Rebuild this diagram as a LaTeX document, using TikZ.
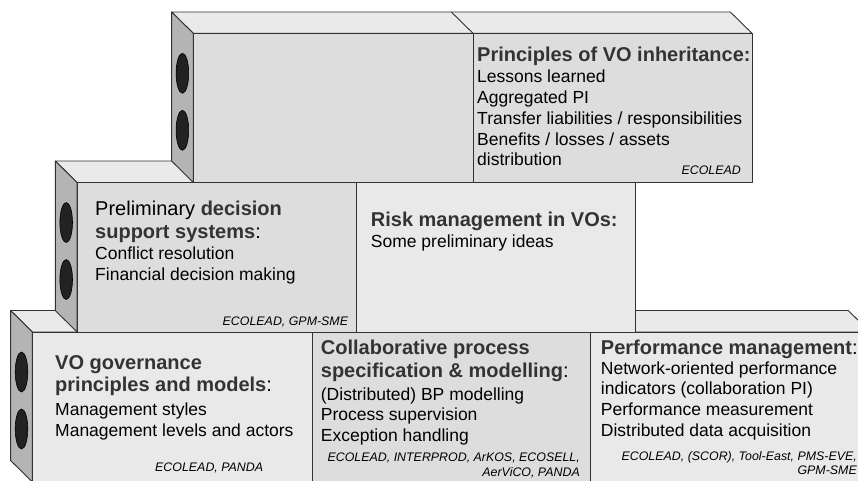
\documentclass[tikz,border=0pt]{standalone}
\usepackage{fontspec}
\setmainfont{Liberation Sans}
\usepackage{xcolor}
\usepackage{tikz}

\definecolor{lightfront}{RGB}{233,233,233}
\definecolor{darkfront}{RGB}{221,221,221}
\definecolor{topgray}{RGB}{234,234,234}
\definecolor{sidegray}{RGB}{180,180,180}
\definecolor{edgegray}{RGB}{50,50,50}
\definecolor{studgray}{RGB}{34,34,34}
\definecolor{titlegray}{RGB}{51,51,51}

\newcommand{\hd}[1]{\textbf{\color{titlegray}#1}}

% multi-line texts are placed by the baseline of their last line
\tikzset{
  face/.style={draw=edgegray, line width=0.9pt, line join=round},
  stud/.style={draw=black, fill=studgray, line width=0.6pt},
  titletext/.style={anchor=base west, inner sep=0pt, align=left, font=\fontsize{20}{22.5}\selectfont},
  bodytext/.style={anchor=base west, inner sep=0pt, align=left, font=\fontsize{17.5}{20.8}\selectfont},
  srctext/.style={anchor=base east, inner sep=0pt, align=right, font=\fontsize{12.4}{14.5}\selectfont\itshape}
}

\begin{document}
\begin{tikzpicture}[x=1pt, y=-1pt]
\useasboundingbox (0,0) rectangle (858,480);

% Bottom row of bricks
\filldraw[face, fill=topgray] (32.3,332) -- (10.6,310.5) -- (848.3,310.5) -- (870,332) -- cycle;
\filldraw[face, fill=sidegray] (10.6,310.5) -- (32.3,332) -- (32.3,482) -- (10.6,460.5) -- cycle;
\filldraw[face, fill=lightfront] (32.3,332) rectangle (312,482);
\filldraw[face, fill=darkfront] (312,332) rectangle (590,482);
\filldraw[face, fill=lightfront] (590,332) rectangle (870,482);
\foreach \y in {372,429}
  \filldraw[stud] (21.5,\y) ellipse (6.3 and 20);

% Middle row of bricks
\filldraw[face, fill=topgray] (77,182.5) -- (55.3,161) -- (613.3,161) -- (635,182.5) -- cycle;
\filldraw[face, fill=sidegray] (55.3,161) -- (77,182.5) -- (77,332) -- (55.3,310.5) -- cycle;
\filldraw[face, fill=darkfront] (77,182.5) rectangle (356,332);
\filldraw[face, fill=lightfront] (356,182.5) rectangle (635,332);
\foreach \y in {222.5,279.5}
  \filldraw[stud] (66.2,\y) ellipse (6.3 and 20);

% Top row of bricks
\filldraw[face, fill=topgray] (193.3,33.3) -- (171.6,12) -- (730.3,12) -- (752,33.3) -- cycle;
\draw[face] (451.3,12) -- (473,33.3);
\filldraw[face, fill=sidegray] (171.6,12) -- (193.3,33.3) -- (193.3,182.5) -- (171.6,161) -- cycle;
\filldraw[face, fill=darkfront] (193.3,33.3) rectangle (473,182.5);
\filldraw[face, fill=darkfront] (473,33.3) rectangle (752,182.5);
\foreach \y in {73.3,130.3}
  \filldraw[stud] (182.4,\y) ellipse (6.3 and 20);

% Principles of VO inheritance
\node[titletext] (inherit-title) at (477,61) {\hd{Principles of VO inheritance:}};
\node[bodytext] (inherit-body) at (477,165.9) {Lessons learned\\Aggregated PI\\Transfer liabilities / responsibilities\\Benefits / losses / assets\\distribution};
\node[srctext] (inherit-src) at (741,174) {ECOLEAD};

% Decision support
\node[titletext] (dss-title) at (95,238) {Preliminary \hd{decision}\\\hd{support systems}:};
\node[bodytext] (dss-body) at (95,280.1) {Conflict resolution\\Financial decision making};
\node[srctext] (dss-src) at (348.3,325) {ECOLEAD, GPM-SME};

% Risk management
\node[titletext] (risk-title) at (370.7,226) {\hd{Risk management in VOs:}};
\node[bodytext] (risk-body) at (370.7,247.3) {Some preliminary ideas};

% VO governance
\node[titletext] (gov-title) at (55,391.5) {\hd{VO governance}\\\hd{principles and models}:};
\node[bodytext] (gov-body) at (55,436.3) {Management styles\\Management levels and actors};
\node[srctext, anchor=base west] (gov-src) at (155,471.7) {ECOLEAD, PANDA};

% Collaborative processes
\node[titletext] (proc-title) at (320.7,377.3) {\hd{Collaborative process}\\\hd{specification \& modelling}:};
\node[bodytext] (proc-body) at (320.7,441.6) {(Distributed) BP modelling\\Process supervision\\Exception handling};
\node[srctext] (proc-src) at (580,476.2) {ECOLEAD, INTERPROD, ArKOS, ECOSELL,\\AerViCO, PANDA};

% Performance management
\node[titletext] (perf-title) at (600.7,354.3) {\hd{Performance management}:};
\node[bodytext] (perf-body) at (600.7,436.4) {Network-oriented performance\\indicators (collaboration PI)\\Performance measurement\\Distributed data acquisition};
\node[srctext] (perf-src) at (857,474.5) {ECOLEAD, (SCOR), Tool-East, PMS-EVE,\\GPM-SME};
\end{tikzpicture}
\end{document}
